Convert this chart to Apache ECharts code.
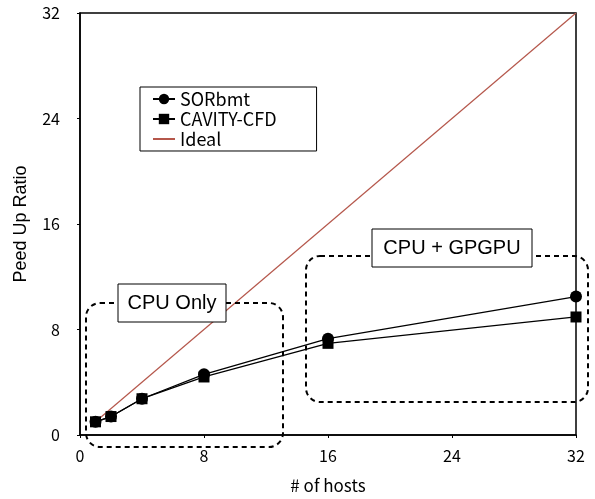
<!DOCTYPE html>
<html><head><meta charset="utf-8">
<script src="https://cdn.jsdelivr.net/npm/echarts@6/dist/echarts.min.js"></script>
<style>html,body{margin:0;padding:0;background:#fff}#c{width:595px;height:499px}</style>
</head><body><div id="c"></div>
<script>
const hosts = [1, 2, 4, 8, 16, 32];
const sorbmt = [1.0, 1.4, 2.75, 4.6, 7.3, 10.5];
const cavity = [1.0, 1.4, 2.75, 4.4, 6.95, 8.95];
const idealX = [1, 32];
const idealY = [1, 32];
const xTicks = [0, 8, 16, 24, 32];
const yTicks = [0, 8, 16, 24, 32];

const font = '"Noto Sans CJK JP", "Liberation Sans", sans-serif';
const chart = echarts.init(document.getElementById('c'), null, {renderer: 'canvas'});
const pair = (xs, ys) => xs.map((x, i) => [x, ys[i]]);

chart.setOption({
  animation: false,
  backgroundColor: '#fff',
  grid: {left: 80, right: 19, top: 13, bottom: 63, show: true, borderColor: '#000', borderWidth: 1.5},
  xAxis: {
    type: 'value', min: xTicks[0], max: xTicks[xTicks.length - 1], interval: 8,
    name: '# of hosts', nameLocation: 'middle', nameGap: 42,
    nameTextStyle: {fontFamily: font, fontSize: 17, color: '#000'},
    axisLine: {show: true, onZero: false, lineStyle: {color: '#000', width: 1.5}},
    axisTick: {show: true, length: 3, inside: false, lineStyle: {color: '#000'}},
    axisLabel: {fontFamily: font, fontSize: 16, color: '#000', margin: 13},
    splitLine: {show: false}
  },
  yAxis: {
    type: 'value', min: yTicks[0], max: yTicks[yTicks.length - 1], interval: 8,
    name: 'Peed Up Ratio', nameLocation: 'middle', nameGap: 50, nameRotate: 90,
    nameTextStyle: {fontFamily: '"Liberation Sans", sans-serif', fontSize: 18, color: '#000'},
    axisLine: {show: true, lineStyle: {color: '#000', width: 1.5}},
    axisTick: {show: true, length: 3, inside: false, lineStyle: {color: '#000'}},
    axisLabel: {fontFamily: font, fontSize: 16, color: '#000', margin: 20},
    splitLine: {show: false}
  },
  legend: {
    orient: 'vertical', left: 140, top: 87,
    backgroundColor: '#fff', borderColor: '#000', borderWidth: 1,
    padding: [3, 40, 3, 12], itemGap: 2, itemWidth: 22, itemHeight: 13,
    textStyle: {fontFamily: font, fontSize: 18, color: '#000'},
    data: ['SORbmt', 'CAVITY-CFD', {name: 'Ideal', itemStyle: {opacity: 0}}]
  },
  series: [
    {name: 'Ideal', type: 'line', data: pair(idealX, idealY), symbol: 'none',
     lineStyle: {color: '#b5574b', width: 1.2}, itemStyle: {color: '#b5574b'}, z: 1},
    {name: 'SORbmt', type: 'line', data: pair(hosts, sorbmt), symbol: 'circle', symbolSize: 12,
     lineStyle: {color: '#000', width: 1.3}, itemStyle: {color: '#000'}, z: 2},
    {name: 'CAVITY-CFD', type: 'line', data: pair(hosts, cavity), symbol: 'rect', symbolSize: 11,
     lineStyle: {color: '#000', width: 1.3}, itemStyle: {color: '#000'}, z: 3}
  ]
});

const dash = {fill: 'none', stroke: '#000', lineWidth: 2, lineDash: [5, 4]};
chart.setOption({
  graphic: [
    {type: 'rect', shape: {x: 86, y: 303, width: 197, height: 144, r: 14}, style: dash, z: 10},
    {type: 'rect', shape: {x: 306, y: 256, width: 282, height: 146, r: 14}, style: dash, z: 10},
    {type: 'rect', shape: {x: 118, y: 284, width: 108, height: 38}, style: {fill: '#fff', stroke: '#000', lineWidth: 1}, z: 11},
    {type: 'text', x: 172, y: 303, style: {text: 'CPU Only', fill: '#000', font: '20px "Liberation Sans", sans-serif', textAlign: 'center', textVerticalAlign: 'middle'}, z: 12},
    {type: 'rect', shape: {x: 372, y: 229, width: 160, height: 38}, style: {fill: '#fff', stroke: '#000', lineWidth: 1}, z: 11},
    {type: 'text', x: 452, y: 248, style: {text: 'CPU + GPGPU', fill: '#000', font: '20px "Liberation Sans", sans-serif', textAlign: 'center', textVerticalAlign: 'middle'}, z: 12}
  ]
});
</script></body></html>
